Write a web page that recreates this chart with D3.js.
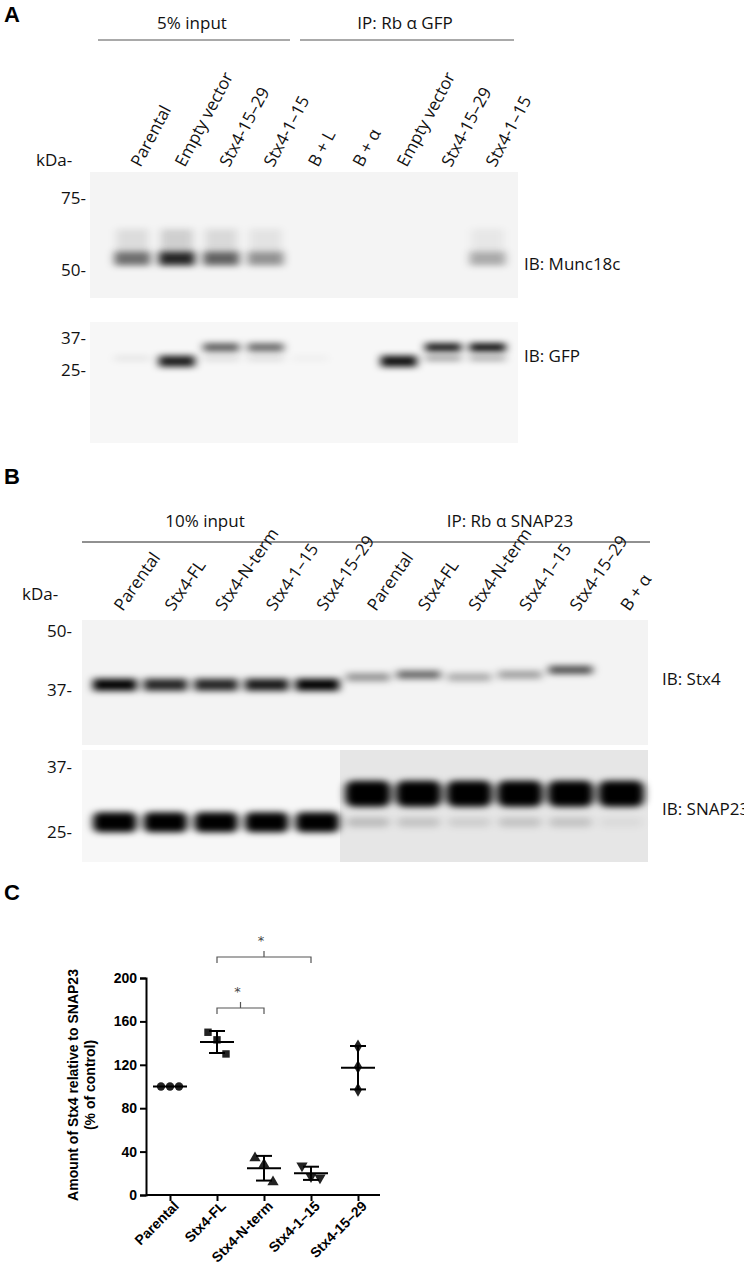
<!DOCTYPE html>
<html lang="en">
<head>
<meta charset="utf-8">
<script src="https://d3js.org/d3.v7.min.js"></script>
<style>
  body { margin: 0; background: #fff; }
  .lbl { font-family: "Open Sans", "DejaVu Sans", sans-serif; font-size: 17px; fill: #111; }
  .panel { font-family: "Liberation Sans", Arial, sans-serif; font-weight: bold; font-size: 22px; }
  .gr { font-family: "Liberation Sans", Arial, sans-serif; font-weight: bold; font-size: 14px; }
</style>
</head>
<body>
<svg id="fig" width="744" height="1285"></svg>
<script>
// ---- panel A data
var lanesA = ["Parental", "Empty vector", "Stx4-15\u201329", "Stx4-1\u201315", "B + L", "B + \u03b1", "Empty vector", "Stx4-15\u201329", "Stx4-1\u201315"];
var munc18c = [0.55, 0.85, 0.6, 0.4, 0, 0, 0, 0, 0.3];      // band intensity ~57 kDa
var gfpUpper = [0, 0, 0.65, 0.6, 0, 0, 0, 0.95, 1.0];      // ~33 kDa
var gfpLower = [0.08, 0.9, 0.12, 0.12, 0.04, 0, 0.95, 0.4, 0.35]; // ~28 kDa
var kdaA1 = [75, 50], kdaA2 = [37, 25];

// ---- panel B data
var lanesB = ["Parental", "Stx4-FL", "Stx4-N-term", "Stx4-1\u201315", "Stx4-15\u201329", "Parental", "Stx4-FL", "Stx4-N-term", "Stx4-1\u201315", "Stx4-15\u201329", "B + \u03b1"];
var stx4 = [1.0, 0.85, 0.85, 0.9, 1.0, 0.4, 0.6, 0.3, 0.35, 0.7, 0];
var stx4Kda = [38, 38, 38, 38, 38, 39.5, 40, 39.5, 40, 41, 40];
var snapHeavy = [0, 0, 0, 0, 0, 1, 1, 1, 1, 1, 1];
var snapLight = [1, 1, 1, 1, 1, 0.18, 0.15, 0.1, 0.15, 0.15, 0.05];
var kdaB1 = [50, 37], kdaB2 = [37, 25];

// ---- panel C data
var groups = ["Parental", "Stx4-FL", "Stx4-N-term", "Stx4-1\u201315", "Stx4-15\u201329"];
var values = [[100, 100, 100], [150, 143, 130], [34, 28, 12], [27, 17, 16], [137, 118, 97]];
var shapes = [d3.symbolCircle, d3.symbolSquare, d3.symbolTriangle, "inv", d3.symbolDiamond];
var yTicks = [0, 40, 80, 120, 160, 200];

var svg = d3.select("#fig");
var defs = svg.append("defs");
defs.append("filter").attr("id", "blur").attr("filterUnits", "userSpaceOnUse")
  .attr("x", 0).attr("y", 0).attr("width", 744).attr("height", 1285)
  .append("feGaussianBlur").attr("stdDeviation", "4 3");

function blot(x0, x1, y0, y1, bg) {
  svg.append("rect").attr("x", x0).attr("y", y0).attr("width", x1 - x0).attr("height", y1 - y0).attr("fill", bg);
}
function kda(ys, vals, x) {
  svg.append("g").selectAll("text").data(vals).join("text").attr("class", "lbl")
    .attr("x", x).attr("y", d => ys(d) + 6).attr("text-anchor", "end").text(d => d + "-");
}

// ================= Panel A
svg.append("text").attr("class", "panel").attr("x", 4).attr("y", 22).text("A");
svg.append("text").attr("class", "lbl").attr("x", 192).attr("y", 29).attr("text-anchor", "middle").text("5% input");
svg.append("text").attr("class", "lbl").attr("x", 405).attr("y", 29).attr("text-anchor", "middle").text("IP: Rb \u03b1 GFP");
svg.append("line").attr("x1", 98).attr("x2", 290).attr("y1", 40).attr("y2", 40).attr("stroke", "#555");
svg.append("line").attr("x1", 300).attr("x2", 514).attr("y1", 40).attr("y2", 40).attr("stroke", "#555");

var xA = d3.scaleBand().domain(lanesA.map((d, i) => i)).range([108, 512]).padding(0.1);
lanesA.forEach(function (d, i) {
  svg.append("text").attr("class", "lbl")
    .attr("transform", "translate(" + (xA(i) + xA.bandwidth() / 2 + 8) + ",168) rotate(-62)").text(d);
});
svg.append("text").attr("class", "lbl").attr("x", 36).attr("y", 166).text("kDa-");

// Munc18c blot
blot(90, 518, 172, 298, "#f4f4f4");
var yM = d3.scaleLog().domain([50, 75]).range([270, 198]);
kda(yM, kdaA1, 86);
svg.append("g").attr("filter", "url(#blur)").selectAll("rect").data(munc18c).join("rect")
  .attr("x", (d, i) => xA(i) + 2).attr("y", yM(55.5)).attr("width", xA.bandwidth() - 4).attr("height", 14)
  .attr("fill", "#000").attr("opacity", d => d);
svg.append("g").attr("filter", "url(#blur)").selectAll("rect").data(munc18c).join("rect")
  .attr("x", (d, i) => xA(i) + 4).attr("y", yM(63)).attr("width", xA.bandwidth() - 8).attr("height", 22)
  .attr("fill", "#000").attr("opacity", d => d * 0.18);
svg.append("text").attr("class", "lbl").attr("x", 524).attr("y", 270).attr("font-size", 19).text("IB: Munc18c");

// GFP blot
blot(90, 518, 322, 443, "#f7f7f7");
var yG = d3.scaleLog().domain([25, 37]).range([370, 338]);
kda(yG, kdaA2, 86);
svg.append("g").attr("filter", "url(#blur)").selectAll("rect").data(gfpUpper).join("rect")
  .attr("x", (d, i) => xA(i) + 2).attr("y", yG(33) - 4).attr("width", xA.bandwidth() - 4).attr("height", 8)
  .attr("fill", "#000").attr("opacity", d => d);
svg.append("g").attr("filter", "url(#blur)").selectAll("rect").data(gfpLower).join("rect")
  .attr("x", (d, i) => xA(i) + 2).attr("y", yG(28) - 5).attr("width", xA.bandwidth() - 4).attr("height", d => d > 0.5 ? 11 : 5)
  .attr("fill", "#000").attr("opacity", d => d);
svg.append("text").attr("class", "lbl").attr("x", 524).attr("y", 362).attr("font-size", 19).text("IB: GFP");

// ================= Panel B
svg.append("text").attr("class", "panel").attr("x", 4).attr("y", 484).text("B");
svg.append("text").attr("class", "lbl").attr("font-size", 16).attr("x", 205).attr("y", 527).attr("text-anchor", "middle").text("10% input");
svg.append("text").attr("class", "lbl").attr("font-size", 16).attr("x", 510).attr("y", 527).attr("text-anchor", "middle").text("IP: Rb \u03b1 SNAP23");
svg.append("line").attr("x1", 82).attr("x2", 650).attr("y1", 542).attr("y2", 542).attr("stroke", "#222");

var xB = d3.scaleBand().domain(lanesB.map((d, i) => i)).range([88, 648]).padding(0.06);
lanesB.forEach(function (d, i) {
  svg.append("text").attr("class", "lbl").attr("font-size", 14)
    .attr("transform", "translate(" + (xB(i) + xB.bandwidth() / 2 + 8) + ",612) rotate(-55)").text(d);
});
svg.append("text").attr("class", "lbl").attr("font-size", 14).attr("x", 22).attr("y", 600).text("kDa-");

// Stx4 blot
blot(82, 648, 620, 745, "#f3f3f3");
var yS = d3.scaleLog().domain([37, 50]).range([690, 631]);
kda(yS, kdaB1, 72);
svg.append("g").attr("filter", "url(#blur)").selectAll("rect").data(stx4).join("rect")
  .attr("x", (d, i) => xB(i) + 2).attr("y", (d, i) => yS(stx4Kda[i]) - (i < 5 ? 6 : 4))
  .attr("width", xB.bandwidth() - 4).attr("height", (d, i) => i < 5 ? 12 : 8)
  .attr("fill", "#000").attr("opacity", d => d);
svg.append("text").attr("class", "lbl").attr("font-size", 15).attr("x", 662).attr("y", 685).text("IB: Stx4");

// SNAP23 blot
blot(82, 648, 750, 862, "#f7f7f7");
svg.append("rect").attr("x", 340).attr("y", 750).attr("width", 308).attr("height", 112).attr("fill", "#e6e6e6");
var yN = d3.scaleLog().domain([25, 37]).range([832, 767]);
kda(yN, kdaB2, 72);
svg.append("g").attr("filter", "url(#blur)").selectAll("rect").data(snapHeavy).join("rect")
  .attr("x", (d, i) => xB(i) + 1).attr("y", yN(31.5) - 13).attr("width", xB.bandwidth() - 2).attr("height", 26).attr("rx", 8)
  .attr("fill", "#000").attr("opacity", d => d);
svg.append("g").attr("filter", "url(#blur)").selectAll("rect").data(snapLight).join("rect")
  .attr("x", (d, i) => xB(i) + 2).attr("y", (d, i) => yN(26.5) - (i < 5 ? 10 : 5))
  .attr("width", xB.bandwidth() - 4).attr("height", (d, i) => i < 5 ? 20 : 10).attr("rx", 6)
  .attr("fill", "#000").attr("opacity", d => d);
svg.append("text").attr("class", "lbl").attr("font-size", 15).attr("x", 662).attr("y", 815).text("IB: SNAP23");

// ================= Panel C
svg.append("text").attr("class", "panel").attr("x", 4).attr("y", 900).text("C");
var x = d3.scalePoint().domain(groups).range([170, 358]);
var y = d3.scaleLinear().domain([0, 200]).range([1195, 978]);
var axY = svg.append("g").attr("transform", "translate(146,0)")
  .call(d3.axisLeft(y).tickValues(yTicks).tickSize(6));
var axX = svg.append("g").attr("transform", "translate(0,1195)")
  .call(d3.axisBottom(x).tickSize(6));
axX.select(".domain").attr("d", "M146,0H380");
[axY, axX].forEach(a => {
  a.selectAll("path,line").attr("stroke", "#000").attr("stroke-width", 2);
  a.selectAll("text").attr("class", "gr").attr("fill", "#000");
});
axX.selectAll("text").attr("text-anchor", "end").attr("transform", "rotate(-45)").attr("dx", "-2").attr("dy", "6");

svg.append("text").attr("class", "gr").attr("text-anchor", "middle")
  .attr("transform", "translate(78,1085) rotate(-90)").text("Amount of Stx4 relative to SNAP23");
svg.append("text").attr("class", "gr").attr("text-anchor", "middle")
  .attr("transform", "translate(95,1085) rotate(-90)").text("(% of control)");

var jit = [-9, 0, 9];
groups.forEach(function (g, gi) {
  var v = values[gi], m = d3.mean(v), sd = d3.deviation(v);
  var cx = x(g);
  var gg = svg.append("g");
  gg.selectAll("path.pt").data(v).join("path")
    .attr("transform", (d, i) => "translate(" + (cx + (gi === 4 ? 0 : jit[i])) + "," + y(d) + ")" + (shapes[gi] === "inv" ? " rotate(180)" : ""))
    .attr("d", d3.symbol().type(shapes[gi] === "inv" ? d3.symbolTriangle : shapes[gi]).size(55))
    .attr("fill", "#222");
  gg.append("line").attr("x1", cx - 17).attr("x2", cx + 17).attr("y1", y(m)).attr("y2", y(m)).attr("stroke", "#000").attr("stroke-width", 2);
  if (sd > 0.5) {
    gg.append("line").attr("x1", cx).attr("x2", cx).attr("y1", y(m - sd)).attr("y2", y(m + sd)).attr("stroke", "#000").attr("stroke-width", 2);
    [m - sd, m + sd].forEach(e => gg.append("line").attr("x1", cx - 8).attr("x2", cx + 8).attr("y1", y(e)).attr("y2", y(e)).attr("stroke", "#000").attr("stroke-width", 2));
  }
});

function bracket(a, b, yy) {
  var x1 = x(a), x2 = x(b), mid = (x1 + x2) / 2;
  svg.append("path").attr("d", "M" + x1 + "," + (yy + 6) + "V" + yy + "H" + x2 + "V" + (yy + 6) + "M" + mid + "," + yy + "V" + (yy - 6))
    .attr("fill", "none").attr("stroke", "#555").attr("stroke-width", 1.2);
  svg.append("text").attr("x", mid - 3).attr("y", yy - 12).attr("text-anchor", "middle")
    .attr("font-family", "DejaVu Sans").attr("font-size", 13).attr("fill", "#444").text("*");
}
bracket("Stx4-FL", "Stx4-N-term", 1008);
bracket("Stx4-FL", "Stx4-1\u201315", 957);
</script>
</body>
</html>
